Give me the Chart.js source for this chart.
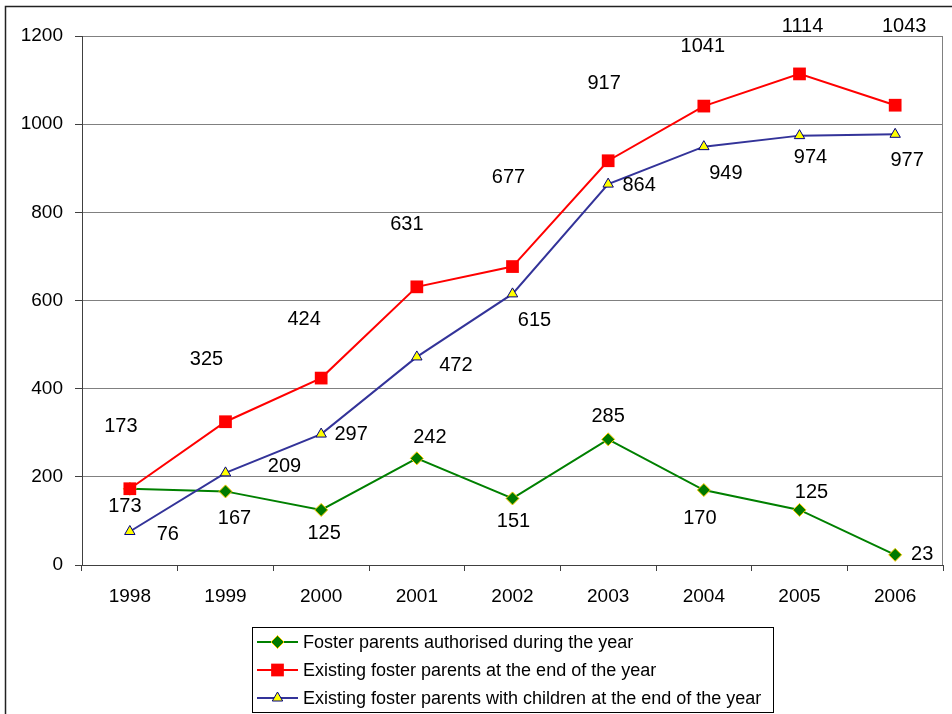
<!DOCTYPE html>
<html>
<head>
<meta charset="utf-8">
<script src="https://cdn.jsdelivr.net/npm/chart.js@4.4.1/dist/chart.umd.min.js"></script>
<style>
  html, body { margin: 0; padding: 0; background: #fff; }
  canvas { display: block; }
</style>
</head>
<body>
<canvas id="fosterChart" width="952" height="714"></canvas>
<script>
// years on the x axis
const years = ["1998", "1999", "2000", "2001", "2002", "2003", "2004", "2005", "2006"];

// series values
const authorised = [173, 167, 125, 242, 151, 285, 170, 125, 23];
const existing = [173, 325, 424, 631, 677, 917, 1041, 1114, 1043];
const withChildren = [76, 209, 297, 472, 615, 864, 949, 974, 977];

// y axis range
const yMin = 0;
const yMax = 1200;
const yStep = 200;

// where each value label sits relative to its point (dx, dy in px)
const authorisedLabelShift = [[-5, 18], [9, 27], [3, 24], [13, -21], [1, 23], [0, -23], [-4, 28], [12, -17], [27, 0]];
const existingLabelShift = [[-9, -62], [-19, -62], [-17, -59], [-10, -62], [-4, -89], [-4, -77], [-1, -60], [3, -47], [9, -79]];
const childrenLabelShift = [[38, 3], [59, -6], [30, 0], [39, 9], [22, 27], [31, 1], [22, 27], [11, 22], [12, 26]];

const FONT = "'Liberation Sans', Arial, sans-serif";


// frame, right edge of the plot, value labels and the boxed legend
const decorations = {
    id: "decorations",

    beforeDraw(chart) {
        const ctx = chart.ctx;
        ctx.save();
        ctx.fillStyle = "#ffffff";
        ctx.fillRect(0, 0, chart.width, chart.height);
        ctx.strokeStyle = "#222222";
        ctx.lineWidth = 1.5;
        ctx.beginPath();
        ctx.moveTo(5.5, chart.height);
        ctx.lineTo(5.5, 6.5);
        ctx.lineTo(chart.width, 6.5);
        ctx.stroke();
        ctx.restore();
    },

    beforeDatasetsDraw(chart) {
        const ctx = chart.ctx;
        const area = chart.chartArea;
        ctx.save();
        ctx.strokeStyle = "#808080";
        ctx.lineWidth = 1;
        ctx.beginPath();
        ctx.moveTo(Math.round(area.right) - 0.5, area.top);
        ctx.lineTo(Math.round(area.right) - 0.5, area.bottom);
        ctx.stroke();
        ctx.restore();
    },

    afterDatasetsDraw(chart) {
        const ctx = chart.ctx;
        ctx.save();
        ctx.font = "20px " + FONT;
        ctx.fillStyle = "#000000";
        ctx.textAlign = "center";
        ctx.textBaseline = "middle";

        chart.data.datasets.forEach((ds, i) => {
            const meta = chart.getDatasetMeta(i);
            meta.data.forEach((pt, j) => {
                const shift = ds.labelShift[j];
                ctx.fillText(String(ds.data[j]), pt.x + shift[0], pt.y + shift[1]);
            });
        });
        ctx.restore();
    },

    afterDraw(chart) {
        const ctx = chart.ctx;
        const box = { left: 252.5, top: 627.5, right: 773.5, bottom: 712.5 };

        ctx.save();
        ctx.strokeStyle = "#000000";
        ctx.lineWidth = 1;
        ctx.strokeRect(box.left, box.top, box.right - box.left, box.bottom - box.top);

        ctx.font = "18px " + FONT;
        ctx.textAlign = "left";
        ctx.textBaseline = "middle";

        chart.data.datasets.forEach((ds, i) => {
            const y = 642 + i * 28;

            ctx.strokeStyle = ds.borderColor;
            ctx.lineWidth = ds.borderWidth;
            ctx.beginPath();
            ctx.moveTo(257, y);
            ctx.lineTo(298, y);
            ctx.stroke();

            ctx.fillStyle = ds.pointBackgroundColor;
            ctx.strokeStyle = ds.pointBorderColor;
            ctx.lineWidth = ds.pointBorderWidth;
            Chart.helpers.drawPoint(ctx, {
                pointStyle: ds.pointStyle,
                radius: ds.pointRadius,
                rotation: 0,
                borderWidth: ds.pointBorderWidth
            }, 277.5, y);

            ctx.fillStyle = "#000000";
            ctx.fillText(ds.label, 303, y + 1);
        });
        ctx.restore();
    }
};


new Chart(document.getElementById("fosterChart"), {
    type: "line",
    data: {
        labels: years,
        datasets: [
            {
                label: "Foster parents authorised during the year",
                data: authorised,
                labelShift: authorisedLabelShift,
                borderColor: "#008000",
                borderWidth: 2,
                pointStyle: "rectRot",
                pointRadius: 6.5,
                pointBackgroundColor: "#007a00",
                pointBorderColor: "#ffcc00",
                pointBorderWidth: 1,
                order: 3
            },
            {
                label: "Existing foster parents at the end of the year",
                data: existing,
                labelShift: existingLabelShift,
                borderColor: "#ff0000",
                borderWidth: 2,
                pointStyle: "rect",
                pointRadius: 9,
                pointBackgroundColor: "#ff0000",
                pointBorderColor: "#ff0000",
                pointBorderWidth: 0,
                order: 2
            },
            {
                label: "Existing foster parents with children at the end of the year",
                data: withChildren,
                labelShift: childrenLabelShift,
                borderColor: "#333399",
                borderWidth: 2,
                pointStyle: "triangle",
                pointRadius: 6,
                pointBackgroundColor: "#ffff00",
                pointBorderColor: "#000080",
                pointBorderWidth: 1,
                order: 1
            }
        ]
    },
    options: {
        responsive: false,
        animation: false,
        tension: 0,
        layout: {
            padding: { top: 36, right: 6, bottom: 0, left: 0 }
        },
        plugins: {
            legend: { display: false },
            tooltip: { enabled: false }
        },
        scales: {
            x: {
                offset: true,
                grid: {
                    offset: true,
                    drawOnChartArea: false,
                    drawTicks: true,
                    tickLength: 6,
                    color: "#404040"
                },
                border: { color: "#404040", width: 1 },
                ticks: {
                    color: "#000000",
                    font: { family: FONT, size: 19 },
                    padding: 14,
                    maxRotation: 0
                },
                afterFit(scale) {
                    scale.height = 149;
                }
            },
            y: {
                min: yMin,
                max: yMax,
                grid: {
                    color: "#808080",
                    tickColor: "#404040",
                    tickLength: 7
                },
                border: { color: "#404040", width: 1 },
                ticks: {
                    stepSize: yStep,
                    color: "#000000",
                    font: { family: FONT, size: 19 },
                    padding: 12,
                    callback: (value) => String(value)
                },
                afterFit(scale) {
                    scale.width = 82;
                }
            }
        }
    },
    plugins: [decorations]
});
</script>
</body>
</html>
